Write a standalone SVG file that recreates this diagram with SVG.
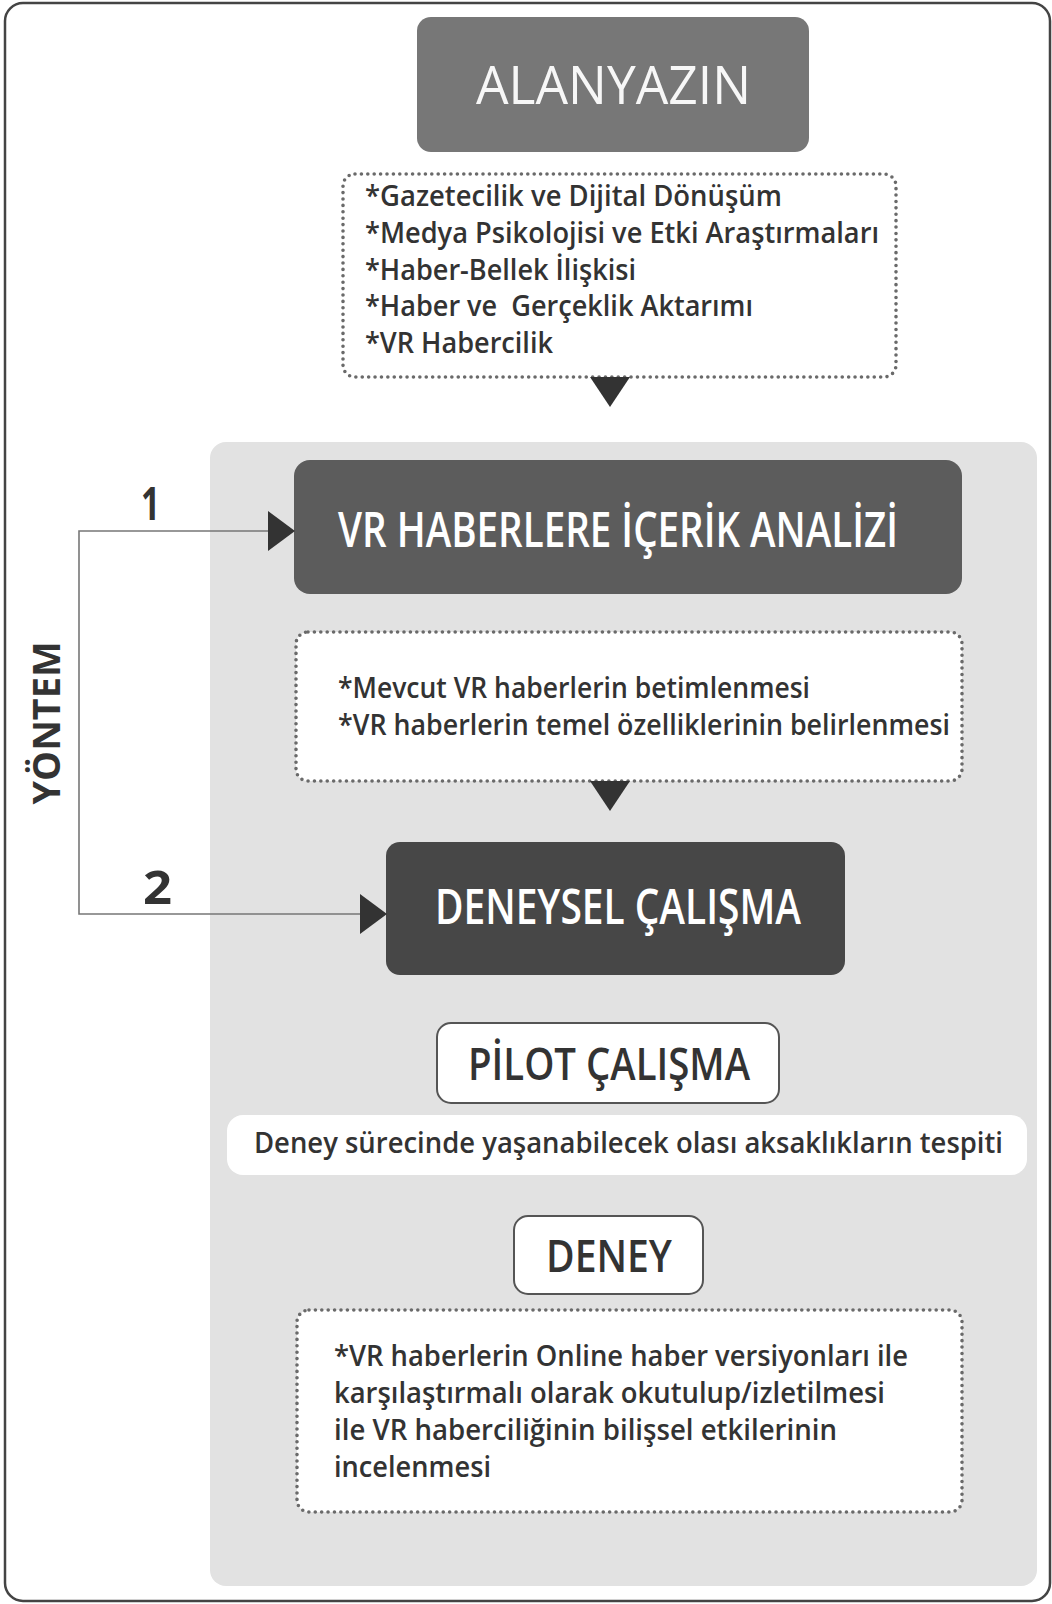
<svg xmlns="http://www.w3.org/2000/svg" width="1052" height="1604" viewBox="0 0 1052 1604">
<style>
.body{font-family:"Open Sans","Noto Sans","Liberation Sans",sans-serif;font-weight:600;font-size:29px;fill:#333}
.title{font-family:"Open Sans","Noto Sans","Liberation Sans",sans-serif;font-weight:600;fill:#fff;text-anchor:start}
.dark{font-family:"Open Sans","Noto Sans","Liberation Sans",sans-serif;font-weight:600;fill:#333}
.dotted{fill:#fff;stroke:#6a6a6a;stroke-width:3.6;stroke-dasharray:0 6.4;stroke-linecap:round}
.conn{fill:none;stroke:#777;stroke-width:1.6}
.head{fill:#333}
.num{font-family:"Open Sans","Noto Sans","Liberation Sans",sans-serif;font-weight:700;font-size:46px;fill:#333}
</style>
<rect x="0" y="0" width="1052" height="1604" fill="#fff"/>
<rect id="frame" x="5" y="3" width="1045" height="1598" rx="18" fill="#fff" stroke="#444" stroke-width="2.5"/>
<rect id="panel" x="210" y="442" width="827" height="1144" rx="16" fill="#e2e2e2"/>

<g id="alanyazin">
<rect x="417" y="17" width="392" height="135" rx="14" fill="#777"/>
<text x="476" y="104" font-family="Open Sans, Noto Sans, Liberation Sans, sans-serif" font-weight="400" font-size="53" fill="#f7f7f7" textLength="275" lengthAdjust="spacingAndGlyphs">ALANYAZIN</text>
</g>

<g id="literature-list">
<rect class="dotted" x="343" y="174" width="553" height="203" rx="12"/>
<text class="body" x="365" y="206" textLength="417" lengthAdjust="spacingAndGlyphs">*Gazetecilik ve Dijital Dönüşüm</text>
<text class="body" x="365" y="243" textLength="514" lengthAdjust="spacingAndGlyphs">*Medya Psikolojisi ve Etki Araştırmaları</text>
<text class="body" x="365" y="280" textLength="271" lengthAdjust="spacingAndGlyphs">*Haber-Bellek İlişkisi</text>
<text class="body" x="365" y="316" textLength="388" lengthAdjust="spacingAndGlyphs" xml:space="preserve">*Haber ve  Gerçeklik Aktarımı</text>
<text class="body" x="365" y="353" textLength="188" lengthAdjust="spacingAndGlyphs">*VR Habercilik</text>
</g>

<g id="vr-analysis">
<rect x="294" y="460" width="668" height="134" rx="16" fill="#5c5c5c"/>
<text class="title" x="338" y="547" font-size="49" textLength="560" lengthAdjust="spacingAndGlyphs">VR HABERLERE İÇERİK ANALİZİ</text>
</g>

<g id="vr-analysis-details">
<rect class="dotted" x="296" y="632" width="666" height="149" rx="12"/>
<text class="body" x="338" y="698" textLength="472" lengthAdjust="spacingAndGlyphs">*Mevcut VR haberlerin betimlenmesi</text>
<text class="body" x="338" y="735" textLength="612" lengthAdjust="spacingAndGlyphs">*VR haberlerin temel özelliklerinin belirlenmesi</text>
</g>

<g id="experimental">
<rect x="386" y="842" width="459" height="133" rx="14" fill="#474747"/>
<text class="title" x="435" y="924" font-size="48" textLength="366" lengthAdjust="spacingAndGlyphs">DENEYSEL ÇALIŞMA</text>
</g>

<g id="pilot">
<rect x="437" y="1023" width="342" height="80" rx="14" fill="#fff" stroke="#555" stroke-width="2"/>
<text class="dark" x="468" y="1080" font-size="45" textLength="282" lengthAdjust="spacingAndGlyphs">PİLOT ÇALIŞMA</text>
</g>

<g id="pilot-detail">
<rect x="227" y="1115" width="800" height="60" rx="16" fill="#fff"/>
<text class="body" x="254" y="1153" textLength="749" lengthAdjust="spacingAndGlyphs">Deney sürecinde yaşanabilecek olası aksaklıkların tespiti</text>
</g>

<g id="deney">
<rect x="514" y="1216" width="189" height="78" rx="14" fill="#fff" stroke="#555" stroke-width="2"/>
<text class="dark" x="546" y="1272" font-size="45" textLength="126" lengthAdjust="spacingAndGlyphs">DENEY</text>
</g>

<g id="deney-detail">
<rect class="dotted" x="297" y="1310" width="665" height="202" rx="12"/>
<text class="body" x="334" y="1366" textLength="574" lengthAdjust="spacingAndGlyphs">*VR haberlerin Online haber versiyonları ile</text>
<text class="body" x="334" y="1403" textLength="551" lengthAdjust="spacingAndGlyphs">karşılaştırmalı olarak okutulup/izletilmesi</text>
<text class="body" x="334" y="1440" textLength="503" lengthAdjust="spacingAndGlyphs">ile VR haberciliğinin bilişsel etkilerinin</text>
<text class="body" x="334" y="1477" textLength="157" lengthAdjust="spacingAndGlyphs">incelenmesi</text>
</g>

<g id="yontem">
<text transform="translate(60,723) rotate(-90)" x="0" y="0" text-anchor="middle" font-family="Open Sans, Noto Sans, Liberation Sans, sans-serif" font-weight="700" font-size="37" fill="#333" textLength="163" lengthAdjust="spacingAndGlyphs">YÖNTEM</text>
</g>

<g id="connectors">
<polyline class="conn" points="270,531 79,531 79,914 362,914"/>
<polygon class="head" points="268,511 295,531 268,551"/>
<polygon class="head" points="360,894 387,914 360,934"/>
<polygon class="head" points="590,377 630,377 610,407"/>
<polygon class="head" points="590,781 630,781 610,811"/>
<text class="num" x="141" y="520" textLength="19" lengthAdjust="spacingAndGlyphs">1</text>
<text class="num" x="143" y="904" textLength="29" lengthAdjust="spacingAndGlyphs">2</text>
</g>
</svg>
